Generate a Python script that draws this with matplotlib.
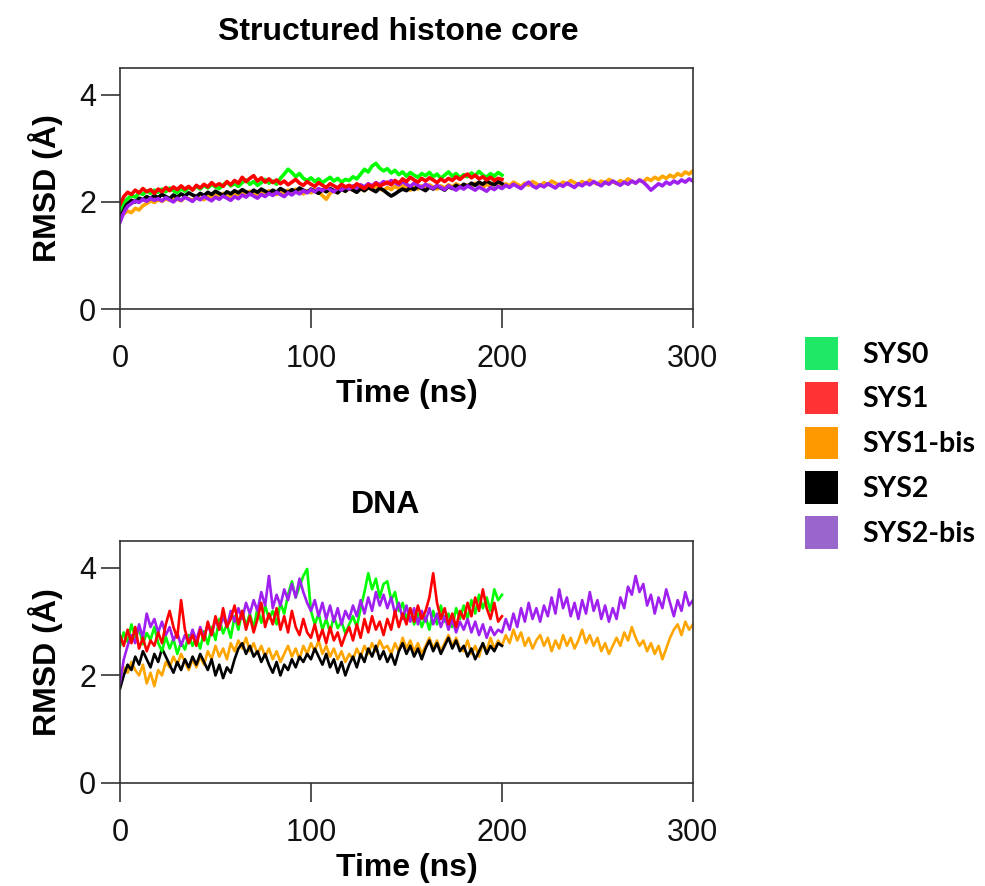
import matplotlib
matplotlib.use("Agg")
import matplotlib.pyplot as plt
from matplotlib.patches import Patch
import numpy as np

# ---------------- data (RMSD in Angstrom, sampled every 2 ns) ----------------
time_200 = np.arange(0, 201, 2)
time_300 = np.arange(0, 301, 2)

systems = ["SYS0", "SYS1", "SYS1-bis", "SYS2", "SYS2-bis"]

core_sys0 = [
    1.85, 2.00, 2.06, 2.12, 2.09, 2.17, 2.14, 2.21, 2.16, 2.22,
    2.18, 2.24, 2.19, 2.26, 2.21, 2.17, 2.25, 2.20, 2.27, 2.23,
    2.29, 2.24, 2.31, 2.26, 2.33, 2.28, 2.25, 2.32, 2.37, 2.30,
    2.34, 2.29, 2.36, 2.41, 2.33, 2.38, 2.31, 2.36, 2.42, 2.35,
    2.39, 2.33, 2.44, 2.52, 2.61, 2.55, 2.47, 2.53, 2.44, 2.40,
    2.45, 2.38, 2.43, 2.36, 2.41, 2.46, 2.39, 2.44, 2.37, 2.42,
    2.40, 2.47, 2.43, 2.52, 2.61, 2.56, 2.67, 2.72, 2.63, 2.58,
    2.62, 2.54, 2.59, 2.51, 2.56, 2.48, 2.55, 2.50, 2.46, 2.53,
    2.49, 2.55, 2.47, 2.52, 2.44, 2.50, 2.56, 2.48, 2.53, 2.45,
    2.51, 2.47, 2.54, 2.49, 2.57, 2.50, 2.46, 2.53, 2.48, 2.55,
    2.50]
core_sys1 = [
    1.95, 2.10, 2.18, 2.14, 2.22, 2.17, 2.25, 2.19, 2.23, 2.16,
    2.24, 2.19, 2.27, 2.21, 2.28, 2.23, 2.30, 2.24, 2.29, 2.22,
    2.31, 2.26, 2.33, 2.28, 2.36, 2.30, 2.34, 2.29, 2.38, 2.32,
    2.40, 2.35, 2.46, 2.38, 2.44, 2.49, 2.39, 2.45, 2.37, 2.43,
    2.36, 2.41, 2.34, 2.39, 2.32, 2.37, 2.42, 2.35, 2.31, 2.38,
    2.33, 2.29, 2.36, 2.31, 2.27, 2.34, 2.30, 2.26, 2.33, 2.28,
    2.31, 2.27, 2.34, 2.29, 2.25, 2.32, 2.28, 2.35, 2.30, 2.33,
    2.37, 2.32, 2.40, 2.35, 2.43, 2.38, 2.46, 2.41, 2.37, 2.44,
    2.39, 2.45, 2.41, 2.36, 2.43, 2.38, 2.44, 2.40, 2.47, 2.42,
    2.48, 2.52, 2.45, 2.50, 2.43, 2.47, 2.41, 2.46, 2.40, 2.44,
    2.42]
core_sys1_bis = [
    1.72, 1.78, 1.83, 1.80, 1.88, 1.85, 1.93, 1.97, 2.02, 1.99,
    2.04, 2.01, 2.06, 2.03, 2.08, 2.05, 2.02, 2.09, 2.06, 2.03,
    2.10, 2.07, 2.04, 2.11, 2.08, 2.14, 2.10, 2.16, 2.12, 2.09,
    2.15, 2.12, 2.18, 2.14, 2.20, 2.16, 2.13, 2.19, 2.15, 2.21,
    2.17, 2.14, 2.20, 2.16, 2.22, 2.18, 2.24, 2.19, 2.15, 2.21,
    2.17, 2.23, 2.19, 2.12, 2.05, 2.16, 2.21, 2.17, 2.24, 2.20,
    2.26, 2.22, 2.19, 2.25, 2.21, 2.27, 2.23, 2.29, 2.25, 2.21,
    2.27, 2.23, 2.29, 2.25, 2.31, 2.26, 2.22, 2.28, 2.24, 2.30,
    2.26, 2.32, 2.28, 2.24, 2.30, 2.26, 2.32, 2.28, 2.34, 2.30,
    2.26, 2.32, 2.28, 2.35, 2.31, 2.27, 2.33, 2.29, 2.36, 2.32,
    2.28, 2.34, 2.30, 2.37, 2.33, 2.29, 2.35, 2.31, 2.38, 2.34,
    2.30, 2.36, 2.32, 2.39, 2.35, 2.31, 2.37, 2.33, 2.40, 2.36,
    2.32, 2.38, 2.34, 2.41, 2.37, 2.33, 2.39, 2.35, 2.42, 2.38,
    2.34, 2.40, 2.36, 2.43, 2.39, 2.35, 2.41, 2.37, 2.44, 2.40,
    2.46, 2.42, 2.48, 2.44, 2.50, 2.46, 2.53, 2.49, 2.56, 2.52,
    2.58]
core_sys2 = [
    1.78, 1.90, 1.97, 2.03, 2.00, 2.07, 2.04, 2.10, 2.06, 2.12,
    2.08, 2.14, 2.10, 2.06, 2.13, 2.09, 2.15, 2.11, 2.17, 2.13,
    2.10, 2.16, 2.12, 2.18, 2.14, 2.20, 2.16, 2.12, 2.19, 2.15,
    2.21, 2.17, 2.23, 2.19, 2.15, 2.22, 2.18, 2.24, 2.20, 2.16,
    2.22, 2.18, 2.25, 2.21, 2.17, 2.23, 2.19, 2.26, 2.22, 2.18,
    2.24, 2.20, 2.16, 2.23, 2.19, 2.25, 2.21, 2.17, 2.24, 2.20,
    2.26, 2.22, 2.18, 2.25, 2.21, 2.27, 2.23, 2.19, 2.26, 2.22,
    2.16, 2.11, 2.15, 2.20, 2.24, 2.21, 2.27, 2.23, 2.29, 2.25,
    2.21, 2.28, 2.24, 2.30, 2.26, 2.22, 2.29, 2.25, 2.31, 2.27,
    2.33, 2.29, 2.35, 2.31, 2.37, 2.33, 2.39, 2.35, 2.32, 2.38,
    2.34]
core_sys2_bis = [
    1.62, 1.80, 1.92, 1.97, 2.02, 1.99, 2.05, 2.01, 2.07, 2.03,
    2.06, 2.02, 2.08, 2.04, 2.00, 2.07, 2.03, 2.09, 2.05, 2.01,
    2.08, 2.04, 2.10, 2.06, 2.02, 2.09, 2.05, 2.11, 2.07, 2.03,
    2.10, 2.06, 2.13, 2.09, 2.15, 2.11, 2.07, 2.14, 2.10, 2.16,
    2.12, 2.18, 2.14, 2.10, 2.17, 2.13, 2.19, 2.15, 2.21, 2.17,
    2.23, 2.19, 2.25, 2.21, 2.27, 2.23, 2.19, 2.26, 2.22, 2.28,
    2.24, 2.30, 2.26, 2.32, 2.28, 2.34, 2.30, 2.36, 2.32, 2.38,
    2.34, 2.40, 2.36, 2.32, 2.38, 2.33, 2.29, 2.35, 2.31, 2.27,
    2.33, 2.29, 2.25, 2.31, 2.27, 2.23, 2.30, 2.26, 2.22, 2.28,
    2.24, 2.30, 2.26, 2.22, 2.28, 2.24, 2.20, 2.27, 2.23, 2.29,
    2.25, 2.31, 2.27, 2.33, 2.29, 2.25, 2.32, 2.37, 2.30, 2.26,
    2.32, 2.28, 2.34, 2.30, 2.26, 2.33, 2.29, 2.35, 2.31, 2.27,
    2.34, 2.30, 2.36, 2.32, 2.38, 2.34, 2.30, 2.37, 2.33, 2.39,
    2.35, 2.31, 2.37, 2.33, 2.39, 2.35, 2.41, 2.37, 2.30, 2.22,
    2.28, 2.34, 2.30, 2.37, 2.33, 2.39, 2.35, 2.41, 2.37, 2.43,
    2.39]

dna_sys0 = [
    2.55, 2.80, 2.62, 2.95, 2.70, 2.88, 2.58, 2.79, 2.66, 2.90,
    2.60, 2.45, 2.72, 2.50, 2.68, 2.40, 2.62, 2.48, 2.75, 2.55,
    2.70, 2.50, 2.82, 2.58, 2.90, 2.66, 3.05, 2.78, 2.95, 2.70,
    3.10, 2.85, 3.20, 2.92, 3.15, 2.88, 3.25, 2.98, 3.30, 3.05,
    3.20, 2.95, 3.35, 3.15, 3.50, 3.75, 3.45, 3.65, 3.85, 3.98,
    3.20, 2.95, 3.15, 2.85, 3.05, 2.80, 3.10, 2.88, 3.00, 2.78,
    2.95, 3.10, 2.90, 3.25, 3.55, 3.90, 3.60, 3.80, 3.45, 3.70,
    3.75, 3.40, 3.55, 3.20, 3.35, 3.05, 3.25, 2.95, 3.15, 2.90,
    3.10, 2.85, 3.20, 2.95, 3.30, 3.00, 3.15, 2.90, 3.25, 3.05,
    3.30, 3.05, 3.40, 3.15, 3.50, 3.25, 3.45, 3.20, 3.60, 3.40,
    3.50]
dna_sys1 = [
    2.75, 2.55, 2.85, 2.60, 2.90, 2.50, 2.70, 2.45, 2.65, 2.55,
    2.80, 2.60, 2.95, 3.20, 2.90, 2.70, 3.40, 2.85, 2.60, 2.75,
    2.55, 2.85, 2.65, 3.00, 2.75, 3.10, 2.85, 3.25, 2.90, 3.05,
    3.30, 2.95, 3.20, 2.85, 3.10, 2.80, 3.05, 3.35, 2.90, 3.15,
    2.95, 3.25, 2.85, 3.10, 2.80, 3.20, 2.90, 2.75, 3.05, 2.80,
    2.70, 2.95, 2.65, 2.85, 2.60, 2.90, 2.65, 2.80, 2.55, 2.75,
    2.90, 2.65, 2.95, 2.70, 3.05, 2.80, 3.10, 2.85, 3.00, 2.75,
    3.05, 2.85, 3.20, 2.90, 3.15, 2.95, 3.25, 3.00, 3.30, 3.05,
    3.20, 3.45, 3.90, 3.35, 3.05, 3.25, 2.95, 3.15, 2.90, 3.20,
    3.05, 3.35, 3.10, 3.45, 3.20, 3.60, 3.25, 3.05, 3.35, 3.00,
    3.10]
dna_sys1_bis = [
    1.95, 2.15, 2.05, 2.25, 2.10, 2.00, 2.20, 1.85, 2.05, 1.80,
    2.10, 2.00, 2.25, 2.15, 2.35, 2.20, 2.40, 2.25, 2.10, 2.30,
    2.15, 2.35, 2.20, 2.45, 2.30, 2.55, 2.35, 2.50, 2.30, 2.60,
    2.45, 2.65, 2.50, 2.70, 2.45, 2.60, 2.40, 2.55, 2.35, 2.50,
    2.30, 2.45, 2.25, 2.40, 2.55, 2.35, 2.50, 2.30, 2.55, 2.40,
    2.60, 2.45, 2.65, 2.40, 2.55, 2.35, 2.50, 2.30, 2.45, 2.25,
    2.40, 2.30, 2.50, 2.35, 2.55, 2.40, 2.60, 2.45, 2.65, 2.50,
    2.55, 2.40, 2.60, 2.45, 2.70, 2.50, 2.65, 2.45, 2.60, 2.40,
    2.55, 2.70, 2.50, 2.65, 2.45, 2.60, 2.75, 2.55, 2.70, 2.50,
    2.45, 2.65, 2.40, 2.55, 2.35, 2.60, 2.45, 2.70, 2.50, 2.65,
    2.55, 2.75, 2.60, 2.85, 2.65, 2.80, 2.55, 2.70, 2.50, 2.65,
    2.75, 2.55, 2.70, 2.45, 2.65, 2.50, 2.75, 2.55, 2.70, 2.50,
    2.65, 2.85, 2.60, 2.75, 2.55, 2.70, 2.45, 2.60, 2.40, 2.55,
    2.70, 2.55, 2.80, 2.65, 2.90, 2.70, 2.55, 2.65, 2.45, 2.60,
    2.40, 2.55, 2.30, 2.50, 2.70, 2.85, 2.95, 2.75, 3.00, 2.85,
    2.95]
dna_sys2 = [
    1.75, 2.00, 2.20, 2.10, 2.35, 2.20, 2.45, 2.30, 2.15, 2.40,
    2.25, 2.50, 2.35, 2.20, 2.05, 2.25, 2.10, 2.30, 2.15, 2.35,
    2.20, 2.40, 2.25, 2.10, 2.30, 2.00, 2.20, 1.95, 2.15, 2.05,
    2.30, 2.50, 2.60, 2.40, 2.55, 2.35, 2.45, 2.25, 2.40, 2.20,
    2.05, 2.25, 2.00, 2.20, 2.10, 2.30, 2.15, 2.35, 2.25, 2.40,
    2.30, 2.50, 2.35, 2.20, 2.40, 2.15, 2.30, 2.05, 2.25, 2.00,
    2.20, 2.35, 2.15, 2.40, 2.25, 2.50, 2.35, 2.55, 2.30, 2.45,
    2.25, 2.40, 2.20, 2.45, 2.60, 2.40, 2.55, 2.35, 2.50, 2.30,
    2.50, 2.65, 2.45, 2.60, 2.40, 2.55, 2.70, 2.50, 2.65, 2.45,
    2.55, 2.35, 2.50, 2.30, 2.45, 2.60, 2.40, 2.55, 2.45, 2.60,
    2.55]
dna_sys2_bis = [
    1.85, 2.30, 2.55, 2.75, 2.60, 2.95, 2.70, 3.15, 2.90, 3.05,
    2.80, 3.00, 2.75, 2.90, 2.65, 2.80, 2.55, 2.75, 2.60, 2.85,
    2.65, 2.90, 2.70, 2.95, 2.75, 3.05, 2.85, 3.10, 2.90, 3.20,
    3.00, 3.25, 3.05, 3.35, 3.15, 3.40, 3.20, 3.55, 3.30, 3.85,
    3.25, 3.50, 3.30, 3.60, 3.40, 3.70, 3.45, 3.80, 3.55, 3.35,
    3.20, 3.40, 3.10, 3.35, 3.05, 3.30, 3.00, 3.25, 2.95, 3.20,
    3.05, 3.30, 3.10, 3.40, 3.15, 3.45, 3.20, 3.55, 3.30, 3.50,
    3.25, 3.45, 3.15, 3.35, 3.05, 3.30, 3.00, 3.25, 2.95, 3.20,
    3.00, 3.25, 2.95, 3.15, 2.90, 3.10, 2.85, 3.05, 2.80, 3.00,
    2.85, 3.05, 2.80, 3.00, 2.75, 2.95, 2.70, 2.90, 2.75, 2.85,
    2.80, 3.05, 2.85, 3.15, 2.90, 3.25, 3.00, 3.35, 3.05, 3.25,
    3.00, 3.30, 3.10, 3.45, 3.15, 3.60, 3.25, 3.45, 3.10, 3.35,
    3.05, 3.40, 3.15, 3.55, 3.20, 3.40, 3.05, 3.30, 3.00, 3.25,
    3.05, 3.45, 3.25, 3.65, 3.50, 3.85, 3.55, 3.70, 3.30, 3.50,
    3.15, 3.45, 3.25, 3.60, 3.35, 3.10, 3.40, 3.20, 3.55, 3.30,
    3.40]

line_colors = {"SYS0": "#00FF00", "SYS1": "#FF0000", "SYS1-bis": "#FFA500",
               "SYS2": "#000000", "SYS2-bis": "#A020F0"}
legend_colors = {"SYS0": "#1EE866", "SYS1": "#FF3333", "SYS1-bis": "#FF9900",
                 "SYS2": "#000000", "SYS2-bis": "#9966CC"}

# (title, title x position, line width, series)
panels = [
    ("Structured histone core", 0.485, 2.6,
     {"SYS0": core_sys0, "SYS1": core_sys1, "SYS1-bis": core_sys1_bis,
      "SYS2": core_sys2, "SYS2-bis": core_sys2_bis}),
    ("DNA", 0.463, 1.9,
     {"SYS0": dna_sys0, "SYS1": dna_sys1, "SYS1-bis": dna_sys1_bis,
      "SYS2": dna_sys2, "SYS2-bis": dna_sys2_bis}),
]

# drawing order (last one ends up on top)
draw_order = ["SYS1-bis", "SYS2", "SYS0", "SYS2-bis", "SYS1"]

# ---------------- figure ----------------
plt.rcParams["font.family"] = ["Liberation Sans", "DejaVu Sans"]
fig = plt.figure(figsize=(9.85, 8.86), dpi=100)
ax_top = fig.add_axes([0.1218, 0.6512, 0.5817, 0.2720])
ax_bot = fig.add_axes([0.1218, 0.1163, 0.5817, 0.2731])

axis_grey = "#333333"
for ax, (title, title_x, lw, series) in zip((ax_top, ax_bot), panels):
    for name in draw_order:
        y = series[name]
        t = time_200 if len(y) == len(time_200) else time_300
        ax.plot(t, y, color=line_colors[name], lw=lw)
    ax.set_xlim(0, 300)
    ax.set_ylim(0, 4.5)
    ax.set_xticks([0, 100, 200, 300])
    ax.set_yticks([0, 2, 4])
    ax.tick_params(direction="out", length=14, width=1.2, color=axis_grey,
                   labelsize=22, labelcolor="#111111")
    ax.tick_params(axis="x", pad=11)
    ax.tick_params(axis="y", pad=3)
    for sp in ax.spines.values():
        sp.set_linewidth(1.2)
        sp.set_color(axis_grey)
    ax.set_xlabel("Time (ns)", fontsize=23, fontweight="bold", labelpad=4)
    ax.set_ylabel("RMSD (Å)", fontsize=23, fontweight="bold", labelpad=12)
    ax.set_title(title, fontsize=23, fontweight="bold", pad=20, x=title_x)

handles = [Patch(facecolor=legend_colors[n], edgecolor="none") for n in systems]
leg = fig.legend(handles, systems, loc="upper left",
                 bbox_to_anchor=(805 / 985, 1 - 337 / 886),
                 frameon=False, borderpad=0, borderaxespad=0,
                 handlelength=1.17, handleheight=1.38, handletextpad=0.85,
                 labelspacing=0.43,
                 prop={"family": ["Lato", "DejaVu Sans"], "weight": "bold", "size": 20.5})

fig.savefig("out.png", dpi=100, facecolor="white")
